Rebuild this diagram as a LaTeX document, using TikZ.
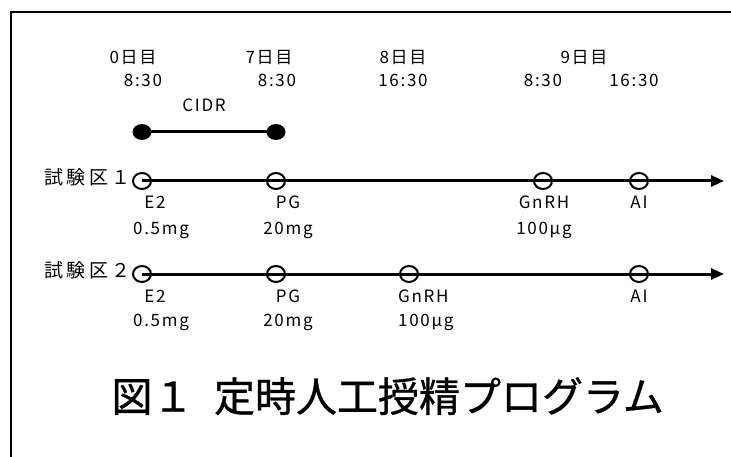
\documentclass[tikz,border=0pt]{standalone}
\usepackage{fontspec}
\setmainfont{Noto Sans CJK JP}
\newfontfamily\lblfont[LetterSpace=10]{Noto Sans CJK JP}
\newfontfamily\grpfont[LetterSpace=18]{Noto Sans CJK JP}
\newfontfamily\ttlfont[FakeBold=0.8]{Noto Sans CJK JP}
\usetikzlibrary{arrows.meta,shapes.geometric}
\begin{document}
\begin{tikzpicture}[x=1pt,y=-1pt,
  lbl/.style={font=\lblfont\fontsize{17}{20}\selectfont, inner sep=0pt, text height=0.87em, text depth=0.13em},
  grp/.style={font=\grpfont\fontsize{19}{22}\selectfont, inner sep=0pt, text height=0.87em, text depth=0.13em},
  ttl/.style={font=\ttlfont\fontsize{41}{47}\selectfont, inner sep=0pt, text height=0.87em, text depth=0.13em},
  odot/.style={draw, line width=2pt, ellipse, minimum width=18pt, minimum height=16pt, inner sep=0pt},
  fdot/.style={fill, ellipse, minimum width=19pt, minimum height=16pt, inner sep=0pt},
  axisline/.style={line width=3pt, -{Triangle[length=13pt,width=11pt]}},
  cidrline/.style={line width=3pt},
  frameline/.style={line width=2pt}]
\path[use as bounding box] (0,0) rectangle (731,457);

% frame (top and left only visible)
\coordinate (fTL) at (11,12);
\coordinate (fTR) at (731,12);
\coordinate (fBL) at (11,457);
\draw[frameline] (fTR) -- (fTL) -- (fBL);

% header
\node[lbl] (d0) at (133,60) {0日目};
\node[lbl] (d7) at (269,60) {7日目};
\node[lbl] (d8) at (403,60) {8日目};
\node[lbl] (d9) at (584,60) {9日目};
\node[lbl] (h0) at (143,83) {8:30};
\node[lbl] (h7) at (277,83) {8:30};
\node[lbl] (h8) at (403,83) {16:30};
\node[lbl] (h9a) at (543,83) {8:30};
\node[lbl] (h9b) at (634,83) {16:30};

% CIDR
\node[lbl] (cidr) at (204,108) {CIDR};
\node[fdot] (c0) at (142,132) {};
\node[fdot] (c7) at (276,132) {};
\draw[cidrline] (c0.center) -- (c7.center);

% timeline 1
\node[grp, anchor=east] (g1) at (131,181) {試験区１};
\node[odot] (a1) at (142,181) {};
\node[odot] (a2) at (276,181) {};
\node[odot] (a3) at (543,181) {};
\node[odot] (a4) at (639,181) {};
\coordinate (a5) at (724,181);
\draw[axisline] (a1.center) -- (a5);
\node[lbl] (e2a) at (155,205) {E2};
\node[lbl] (e2b) at (161,231) {0.5mg};
\node[lbl] (pga) at (288,205) {PG};
\node[lbl] (pgb) at (288,231) {20mg};
\node[lbl] (gna) at (544,205) {GnRH};
\node[lbl] (gnb) at (544,231) {100μg};
\node[lbl] (aia) at (639,205) {AI};

% timeline 2
\node[grp, anchor=east] (g2) at (131,274) {試験区２};
\node[odot] (b1) at (142,274) {};
\node[odot] (b2) at (276,274) {};
\node[odot] (b3) at (409,274) {};
\node[odot] (b4) at (639,274) {};
\coordinate (b5) at (724,274);
\draw[axisline] (b1.center) -- (b5);
\node[lbl] (e2c) at (155,299) {E2};
\node[lbl] (e2d) at (161,323) {0.5mg};
\node[lbl] (pgc) at (288,299) {PG};
\node[lbl] (pgd) at (288,323) {20mg};
\node[lbl, anchor=west] (gnc) at (398,299) {GnRH};
\node[lbl, anchor=west] (gnd) at (398,323) {100μg};
\node[lbl] (aib) at (639,299) {AI};

% title
\node[ttl, anchor=east] (title) at (664,408) {図１\hspace{0.5em}定時人工授精プログラム};
\end{tikzpicture}
\end{document}
